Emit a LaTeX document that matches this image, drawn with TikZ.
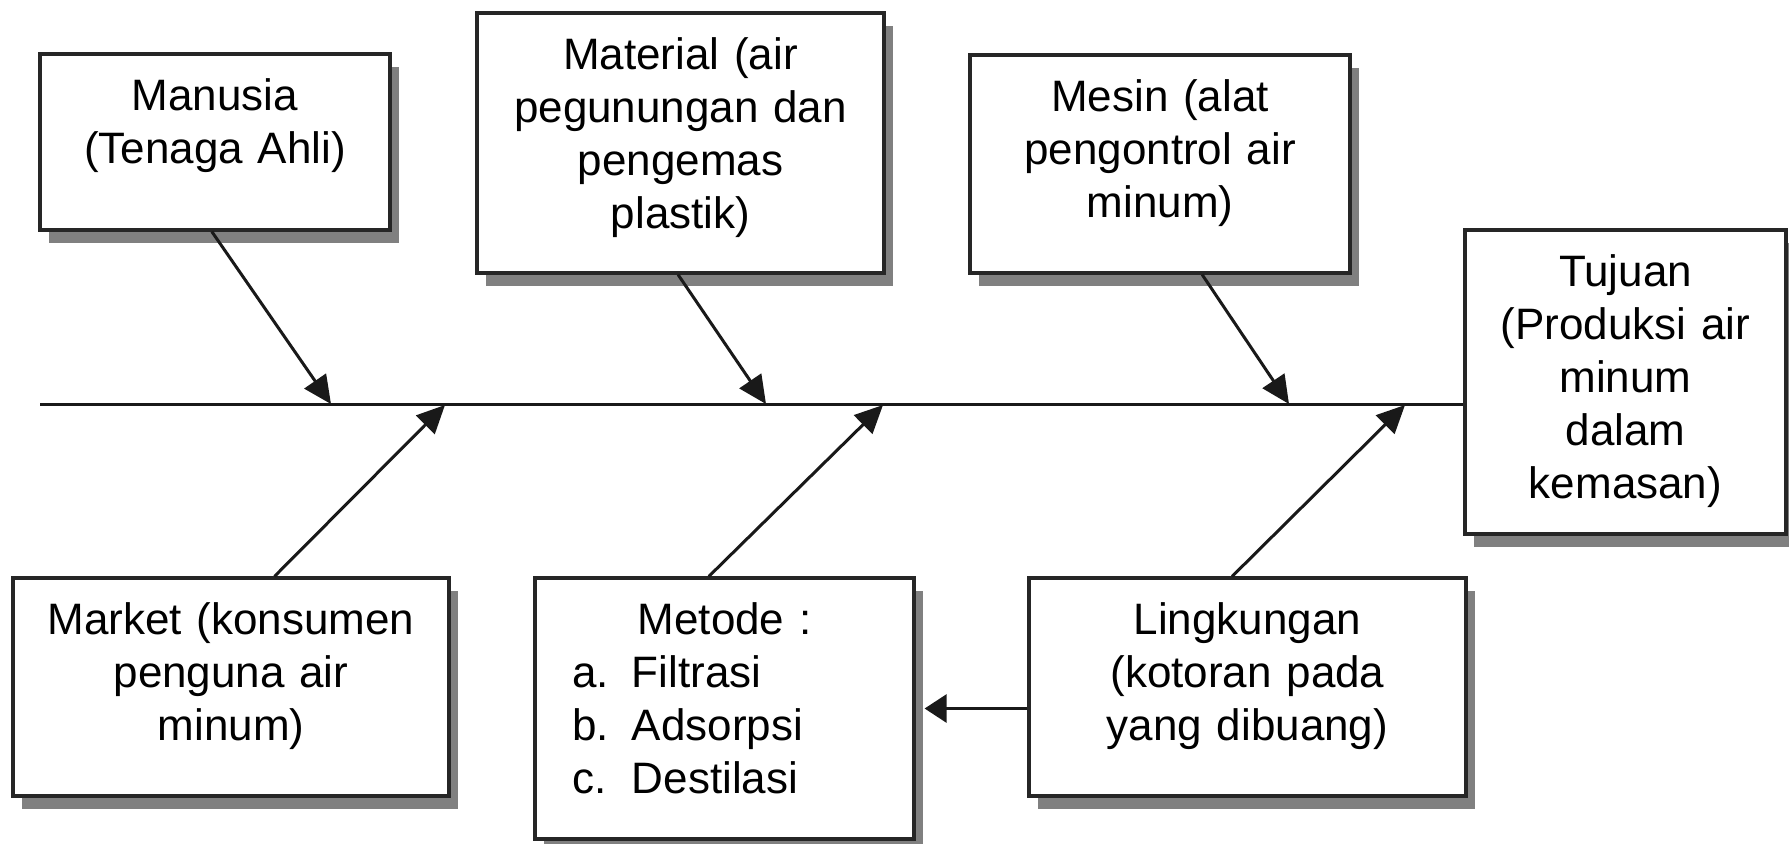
\documentclass[tikz,border=0pt]{standalone}
\usepackage{fontspec}
\setmainfont{Liberation Sans}
\usetikzlibrary{arrows.meta,calc,shadows}
\begin{document}
\begin{tikzpicture}[x=0.5pt,y=-0.5pt,
  box/.style={draw=black!85, line width=1.6pt, fill=white, inner sep=0pt,
    drop shadow={shadow xshift=4.5pt, shadow yshift=-6.5pt, fill=black!50, opacity=1}},
  txt/.style={inner sep=0pt, anchor=base, align=center, font=\fontsize{22}{26.5}\selectfont},
  conn/.style={line width=1.5pt, draw=black!90},
  arr/.style={conn, -{Triangle[length=14pt,width=13pt]}},
  harr/.style={conn, -{Triangle[length=11pt,width=14pt]}}]
\useasboundingbox (0,0) rectangle (1789,843);
% boxes
\node[box, minimum width=175pt, minimum height=88pt] (manusia) at (215,142) {};
\node[box, minimum width=203.5pt, minimum height=130pt] (material) at (680.5,143) {};
\node[box, minimum width=190pt, minimum height=109pt] (mesin) at (1160,164) {};
\node[box, minimum width=160.5pt, minimum height=152pt] (tujuan) at (1625.5,382) {};
\node[box, minimum width=218pt, minimum height=109pt] (market) at (231,687) {};
\node[box, minimum width=189.5pt, minimum height=130.5pt] (metode) at (724.5,708.5) {};
\node[box, minimum width=218.5pt, minimum height=109pt] (lingk) at (1247.5,687) {};
% texts
\node[txt, text width=165pt] (manusia-t) at ($(manusia.north)+(0,58)$) {Manusia\\(Tenaga Ahli)};
\node[txt, text width=195pt] (material-t) at ($(material.north)+(0,58)$) {Material (air\\pegunungan dan\\pengemas\\plastik)};
\node[txt, text width=180pt] (mesin-t) at ($(mesin.north)+(0,58)$) {Mesin (alat\\pengontrol air\\minum)};
\node[txt, text width=152pt] (tujuan-t) at ($(tujuan.north)+(0,58)$) {Tujuan\\(Produksi air\\minum\\dalam\\kemasan)};
\node[txt, text width=210pt] (market-t) at ($(market.north)+(0,58)$) {Market (konsumen\\penguna air\\minum)};
\node[txt, text width=210pt] (lingk-t) at ($(lingk.north)+(0,58)$) {Lingkungan\\(kotoran pada\\yang dibuang)};
\node[txt, text width=189.5pt, align=left] (metode-t) at ($(metode.north)+(0,58)$)
  {\makebox[\linewidth]{Metode :}\\
   \hspace*{18.5pt}\makebox[30pt][l]{a.}Filtrasi\\
   \hspace*{18.5pt}\makebox[30pt][l]{b.}Adsorpsi\\
   \hspace*{18.5pt}\makebox[30pt][l]{c.}Destilasi};
% spine
\coordinate (spine) at (40,404);
\draw[conn] (spine) -- (spine -| tujuan.west);
\coordinate (s1) at (331,404);
\coordinate (s2) at (766,404);
\coordinate (s3) at (1289,404);
\coordinate (b1) at (445,405);
\coordinate (b2) at (883,405);
\coordinate (b3) at (1405,405);
% arrows
\draw[arr] ($(manusia.south west)!0.491!(manusia.south east)$) -- (s1);
\draw[arr] ($(material.south west)!0.494!(material.south east)$) -- (s2);
\draw[arr] ($(mesin.south west)!0.61!(mesin.south east)$) -- (s3);
\draw[arr] ($(market.north west)!0.599!(market.north east)$) -- (b1);
\draw[arr] ($(metode.north west)!0.459!(metode.north east)$) -- (b2);
\draw[arr] ($(lingk.north west)!0.465!(lingk.north east)$) -- (b3);
\draw[harr] (lingk.west |- metode.east) -- ([xshift=4.5pt]metode.east);
\end{tikzpicture}
\end{document}
